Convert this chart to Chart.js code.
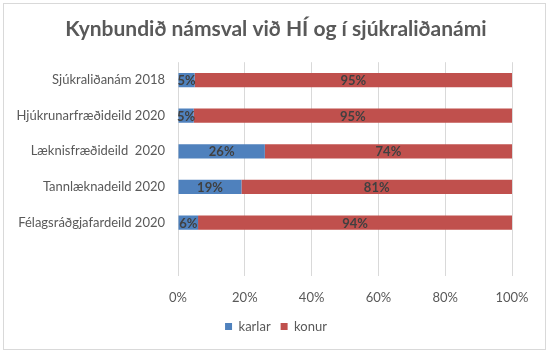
<!DOCTYPE html>
<html>
<head>
<meta charset="utf-8">
<script src="https://cdn.jsdelivr.net/npm/chart.js@4"></script>
<style>
html,body{margin:0;padding:0;background:#fff;}
#wrap{position:relative;width:552px;height:357px;}
</style>
</head>
<body>
<div id="wrap"><canvas id="c" width="552" height="357"></canvas></div>
<script>
const titleText = 'Kynbundið námsval við HÍ og í sjúkraliðanámi';
const categories = ['Sjúkraliðanám 2018', 'Hjúkrunarfræðideild 2020', 'Læknisfræðideild  2020', 'Tannlæknadeild 2020', 'Félagsráðgjafardeild 2020', ''];
const karlar = [5, 4.7, 26, 19, 6, null];
const konur = [95, 95.3, 74, 81, 94, null];
const xTicks = [0, 20, 40, 60, 80, 100];

const FONT = 'Lato, "Liberation Sans", sans-serif';
const TXT = '#595959';

const frame = {
  id: 'frame',
  beforeDraw(chart) {
    const ctx = chart.ctx;
    ctx.save();
    ctx.fillStyle = '#fff';
    ctx.fillRect(0, 0, chart.width, chart.height);
    ctx.strokeStyle = '#d9d9d9';
    ctx.lineWidth = 1;
    ctx.strokeRect(3.5, 3.5, 542, 346);
    ctx.restore();
  }
};

const barLabels = {
  id: 'barLabels',
  afterDatasetsDraw(chart) {
    const ctx = chart.ctx;
    ctx.save();
    ctx.font = 'bold 13px ' + FONT;
    ctx.fillStyle = '#404040';
    ctx.textAlign = 'center';
    ctx.textBaseline = 'middle';
    chart.data.datasets.forEach((ds, i) => {
      const meta = chart.getDatasetMeta(i);
      meta.data.forEach((el, j) => {
        const v = ds.data[j];
        if (v === null || v === undefined) return;
        const cx = (el.x + el.base) / 2;
        ctx.fillText(Math.round(v) + '%', cx, el.y + 1);
      });
    });
    ctx.restore();
  }
};

new Chart(document.getElementById('c'), {
  type: 'bar',
  data: {
    labels: categories,
    datasets: [
      { label: 'karlar', data: karlar, backgroundColor: '#4F81BD' },
      { label: 'konur', data: konur, backgroundColor: '#C0504D' }
    ]
  },
  options: {
    indexAxis: 'y',
    responsive: false,
    animation: false,
    devicePixelRatio: 1,
    barPercentage: 0.4,
    categoryPercentage: 1,
    layout: { padding: { left: 0, right: 0, top: 0, bottom: 14 } },
    plugins: {
      title: {
        display: true,
        text: titleText,
        color: TXT,
        font: { family: FONT, size: 21, weight: 'bold' },
        padding: { top: 17, bottom: 20 }
      },
      legend: {
        position: 'bottom',
        labels: {
          boxWidth: 7, boxHeight: 7,
          color: TXT,
          font: { family: FONT, size: 13 },
          padding: 10
        }
      },
      tooltip: { enabled: false }
    },
    scales: {
      x: {
        stacked: true,
        min: 0, max: 100,
        afterBuildTicks(s) { s.ticks = xTicks.map(v => ({ value: v })); },
        ticks: { color: TXT, font: { family: FONT, size: 13 }, padding: 14, callback: v => v + '%' },
        grid: { color: '#d9d9d9', drawTicks: false },
        border: { display: false },
        afterFit(s) { s.height = 34; }
      },
      y: {
        stacked: true,
        ticks: { color: TXT, font: { family: FONT, size: 13 }, padding: 13 },
        grid: { display: false, drawTicks: false },
        border: { display: false },
        afterFit(s) { s.width = 178; }
      },
      yRight: {
        type: 'category',
        position: 'right',
        display: true,
        ticks: { display: false },
        grid: { display: false, drawTicks: false },
        border: { display: false },
        afterFit(s) { s.width = 40; }
      }
    }
  },
  plugins: [frame, barLabels]
});
</script>
</body>
</html>
